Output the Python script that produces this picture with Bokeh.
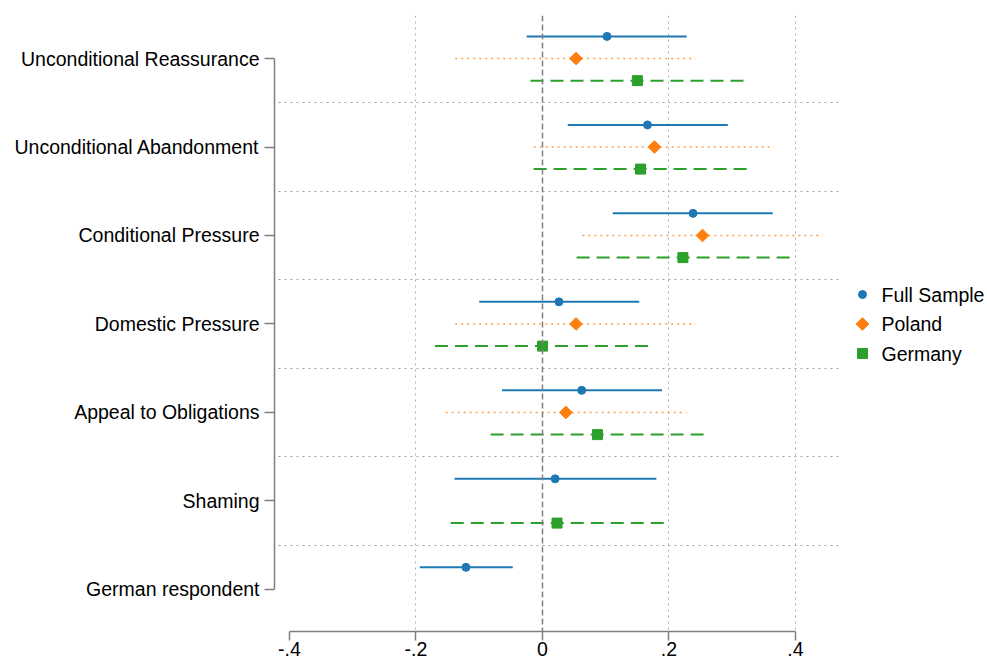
from bokeh.plotting import figure
from bokeh.models import (Range1d, FixedTicker, Span, ColumnDataSource)
from bokeh.core.properties import value
from bokeh.embed import file_html
from bokeh.resources import INLINE
import math

# ---------------- data ----------------
categories = ["Unconditional Reassurance", "Unconditional Abandonment",
              "Conditional Pressure", "Domestic Pressure",
              "Appeal to Obligations", "Shaming", "German respondent"]

full_est = [0.102, 0.166, 0.238, 0.026, 0.062, 0.020, -0.121]
full_lo  = [-0.025, 0.040, 0.111, -0.100, -0.064, -0.139, -0.194]
full_hi  = [0.228, 0.293, 0.364, 0.153, 0.189, 0.180, -0.047]

pol_est = [0.053, 0.177, 0.253, 0.053, 0.037, None, None]
pol_lo  = [-0.138, -0.014, 0.063, -0.138, -0.153, None, None]
pol_hi  = [0.242, 0.366, 0.443, 0.242, 0.228, None, None]

ger_est = [0.150, 0.155, 0.222, 0.000, 0.087, 0.023, None]
ger_lo  = [-0.019, -0.014, 0.054, -0.170, -0.082, -0.145, None]
ger_hi  = [0.318, 0.325, 0.391, 0.168, 0.255, 0.192, None]

series_names = ["Full Sample", "Poland", "Germany"]

x_ticks = [-0.4, -0.2, 0.0, 0.2, 0.4]
x_tick_labels = ["-.4", "-.2", "0", ".2", ".4"]

# ---------------- layout ----------------
W, H = 987, 664
LEFT, TOP, BOTTOM = 274, 15, 33
FRAME_W = W - LEFT
FRAME_H = H - TOP - BOTTOM
PX_PER_X = 632.5          # pixels per data unit on x
X0 = -0.4237              # data value at frame left
Y_TOP = -0.486            # data value at frame top
Y_BOT = 6.475             # data value at frame bottom
X1 = X0 + FRAME_W / PX_PER_X


def sx_to_data(px):
    return X0 + (px - LEFT) / PX_PER_X


def sy_to_data(py):
    return Y_TOP + (py - TOP) / FRAME_H * (Y_BOT - Y_TOP)


FONT = "Liberation Sans"
FS = "19.5px"
GRAY = "#808080"

p = figure(width=W, height=H, output_backend="svg", toolbar_location=None,
           x_range=Range1d(X0, X1), y_range=Range1d(Y_BOT, Y_TOP),
           min_border_left=LEFT, min_border_right=0, min_border_top=TOP,
           min_border_bottom=BOTTOM)
p.outline_line_color = None
p.background_fill_color = "white"

# grids
p.xgrid.ticker = FixedTicker(ticks=[-0.2, 0.2, 0.4])
p.xgrid.grid_line_color = "#b0b0b0"
p.xgrid.grid_line_dash = "2 4"
p.xgrid.grid_line_width = 1
p.ygrid.ticker = FixedTicker(ticks=[i + 0.5 for i in range(len(categories) - 1)])
p.ygrid.cross_bounds = (sx_to_data(278), sx_to_data(838))
p.ygrid.grid_line_color = "#a0a0a0"
p.ygrid.grid_line_dash = "2 4"
p.ygrid.grid_line_width = 1

# zero line
p.add_layout(Span(location=0, dimension="height", line_color="#808080",
                  line_dash="6 3", line_width=1.5))

# axes
xa = p.xaxis[0]
xa.ticker = FixedTicker(ticks=x_ticks)
xa.major_label_overrides = {t: l for t, l in zip(x_ticks, x_tick_labels)}
xa.bounds = (-0.4, 0.4)
xa.axis_line_color = GRAY
xa.axis_line_width = 1.5
xa.major_tick_line_color = GRAY
xa.major_tick_line_width = 1.5
xa.major_tick_out = 9
xa.major_tick_in = 0
xa.minor_tick_line_color = None
xa.major_label_standoff = 1
xa.major_label_text_font = FONT
xa.major_label_text_font_size = FS
xa.major_label_text_color = "black"

ya = p.yaxis[0]
ya.ticker = FixedTicker(ticks=list(range(len(categories))))
ya.major_label_overrides = {i: c for i, c in enumerate(categories)}
ya.bounds = (0, len(categories) - 1)
ya.axis_line_color = GRAY
ya.axis_line_width = 1.5
ya.major_tick_line_color = GRAY
ya.major_tick_line_width = 1.5
ya.major_tick_out = 10
ya.major_tick_in = 0
ya.minor_tick_line_color = None
ya.major_label_standoff = 5
ya.major_label_text_font = FONT
ya.major_label_text_font_size = FS
ya.major_label_text_color = "black"


def build(est, lo, hi, offset):
    d = dict(y=[], est=[], lo=[], hi=[])
    for i, (e, l, h) in enumerate(zip(est, lo, hi)):
        if e is None:
            continue
        d["y"].append(i + offset)
        d["est"].append(e)
        d["lo"].append(l)
        d["hi"].append(h)
    return ColumnDataSource(d)


s_full = build(full_est, full_lo, full_hi, -0.25)
s_pol = build(pol_est, pol_lo, pol_hi, 0.0)
s_ger = build(ger_est, ger_lo, ger_hi, 0.25)

BLUE, ORANGE, GREEN = "#1f77b4", "#ff7f0e", "#2ca02c"

p.segment(x0="lo", y0="y", x1="hi", y1="y", source=s_full,
          line_color=BLUE, line_width=2)
p.segment(x0="lo", y0="y", x1="hi", y1="y", source=s_pol,
          line_color=ORANGE, line_alpha=0.75, line_width=1.5, line_dash="2 4")
p.segment(x0="lo", y0="y", x1="hi", y1="y", source=s_ger,
          line_color=GREEN, line_width=2, line_dash="13 7")

marker_styles = [
    dict(marker="circle", size=8, angle=0.0, color=BLUE),
    dict(marker="square", size=9, angle=math.pi / 4, color=ORANGE),
    dict(marker="square", size=10, angle=0.0, color=GREEN),
]

for src, st in zip([s_full, s_pol, s_ger], marker_styles):
    p.scatter(x="est", y="y", source=src, marker=st["marker"], size=st["size"],
              angle=st["angle"], fill_color=st["color"], line_color=st["color"])

# ---------------- legend (outside data area, right) ----------------
leg_rows_px = [294, 323.5, 353]
for name, st, ypx in zip(series_names, marker_styles, leg_rows_px):
    yy = sy_to_data(ypx)
    p.scatter(x=[sx_to_data(862)], y=[yy], marker=st["marker"], size=st["size"],
              angle=st["angle"], fill_color=st["color"], line_color=st["color"])
    p.text(x=[sx_to_data(881)], y=[yy], text=[name], text_align="left",
           text_baseline="middle", text_font=value(FONT),
           text_font_size=value(FS), text_color="black")

open("out.html", "w").write(file_html(p, INLINE))
